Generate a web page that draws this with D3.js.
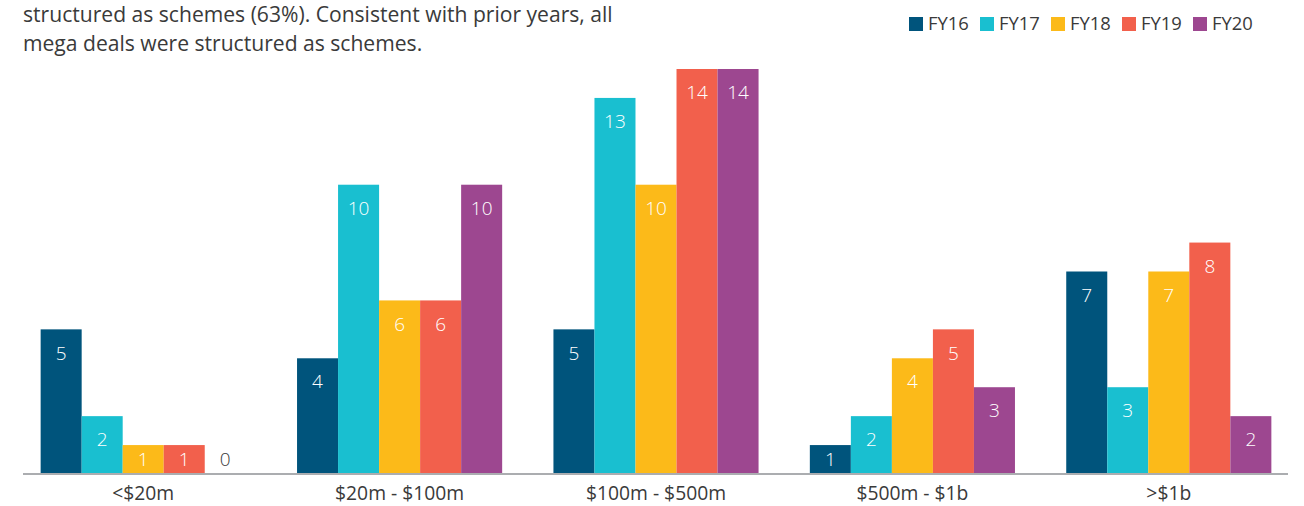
<!DOCTYPE html>
<html>
<head>
<meta charset="utf-8">
<script src="https://cdn.jsdelivr.net/npm/d3@7/dist/d3.min.js"></script>
<style>
  html, body { margin: 0; padding: 0; background: #fff; }
  svg { display: block; font-family: "Open Sans", "Noto Sans", sans-serif; font-weight: 400; }
</style>
</head>
<body>
<svg id="chart" width="1304" height="506"></svg>
<script>
// Deal counts by deal size, per financial year
const categories = ["<$20m", "$20m - $100m", "$100m - $500m", "$500m - $1b", ">$1b"];
const years = ["FY16", "FY17", "FY18", "FY19", "FY20"];
const fy16 = [5, 4, 5, 1, 7];
const fy17 = [2, 10, 13, 2, 3];
const fy18 = [1, 6, 10, 4, 7];
const fy19 = [1, 6, 14, 5, 8];
const fy20 = [0, 10, 14, 3, 2];
const yDomain = [0, 14];
const introLines = [
  "structured as schemes (63%). Consistent with prior years, all",
  "mega deals were structured as schemes."
];

const seriesValues = [fy16, fy17, fy18, fy19, fy20];
const colors = ["#00547c", "#19bfd0", "#fcba19", "#f2604c", "#9d4790"];
const textColor = "#3a3a3a";

const svg = d3.select("#chart");
const baseline = 474, plotTop = 69;

const x0 = d3.scaleBand().domain(categories).range([15, 1297])
  .paddingInner(0.2).paddingOuter(0.1);
const x1 = d3.scaleBand().domain(years).range([0, x0.bandwidth()]);
const y = d3.scaleLinear().domain(yDomain).range([baseline, plotTop]);
const color = d3.scaleOrdinal().domain(years).range(colors);

// Intro text above the chart
svg.append("g").selectAll("text").data(introLines).join("text")
  .attr("x", 23).attr("y", (d, i) => 22 + i * 29)
  .attr("fill", textColor).style("font-size", "21.1px")
  .text(d => d);

// Bars
const rows = categories.map((c, ci) => ({
  cat: c,
  vals: years.map((yr, yi) => ({ cat: c, year: yr, v: seriesValues[yi][ci] }))
}));

const groups = svg.append("g").selectAll("g").data(rows).join("g")
  .attr("transform", d => `translate(${x0(d.cat)},0)`);

groups.selectAll("rect").data(d => d.vals).join("rect")
  .attr("x", d => x1(d.year))
  .attr("y", d => y(d.v))
  .attr("width", x1.bandwidth())
  .attr("height", d => y(0) - y(d.v))
  .attr("fill", d => color(d.year));

// Value labels inside the top of each bar
groups.selectAll("text").data(d => d.vals).join("text")
  .attr("x", d => x1(d.year) + x1.bandwidth() / 2)
  .attr("y", d => Math.min(y(d.v) + 23.5, baseline - 14.5))
  .attr("dy", "0.35em")
  .attr("text-anchor", "middle")
  .attr("fill", d => d.v === 0 ? textColor : "#fff")
  .style("font-size", "19px")
  .style("font-weight", 300)
  .text(d => d.v);

// Baseline axis with category labels
const axis = svg.append("g").attr("transform", `translate(0,${baseline})`)
  .call(d3.axisBottom(x0).tickSize(0).tickPadding(12));
axis.select(".domain").remove();
axis.append("line").attr("x1", 23).attr("x2", 1288)
  .attr("stroke", "#abadb0").attr("stroke-width", 2);
axis.selectAll(".tick text")
  .attr("fill", textColor)
  .style("font-size", "19.3px")
  .style("font-weight", 400)
  .style("font-family", "'Open Sans', 'Noto Sans', sans-serif");

// Legend
const legend = svg.append("g").selectAll("g").data(years).join("g")
  .attr("transform", (d, i) => `translate(${909 + i * 71},17)`);
legend.append("rect").attr("width", 14).attr("height", 14).attr("fill", d => color(d));
legend.append("text").attr("x", 19).attr("y", 7).attr("dy", "0.35em")
  .attr("fill", textColor).style("font-size", "18.4px").text(d => d);
</script>
</body>
</html>
